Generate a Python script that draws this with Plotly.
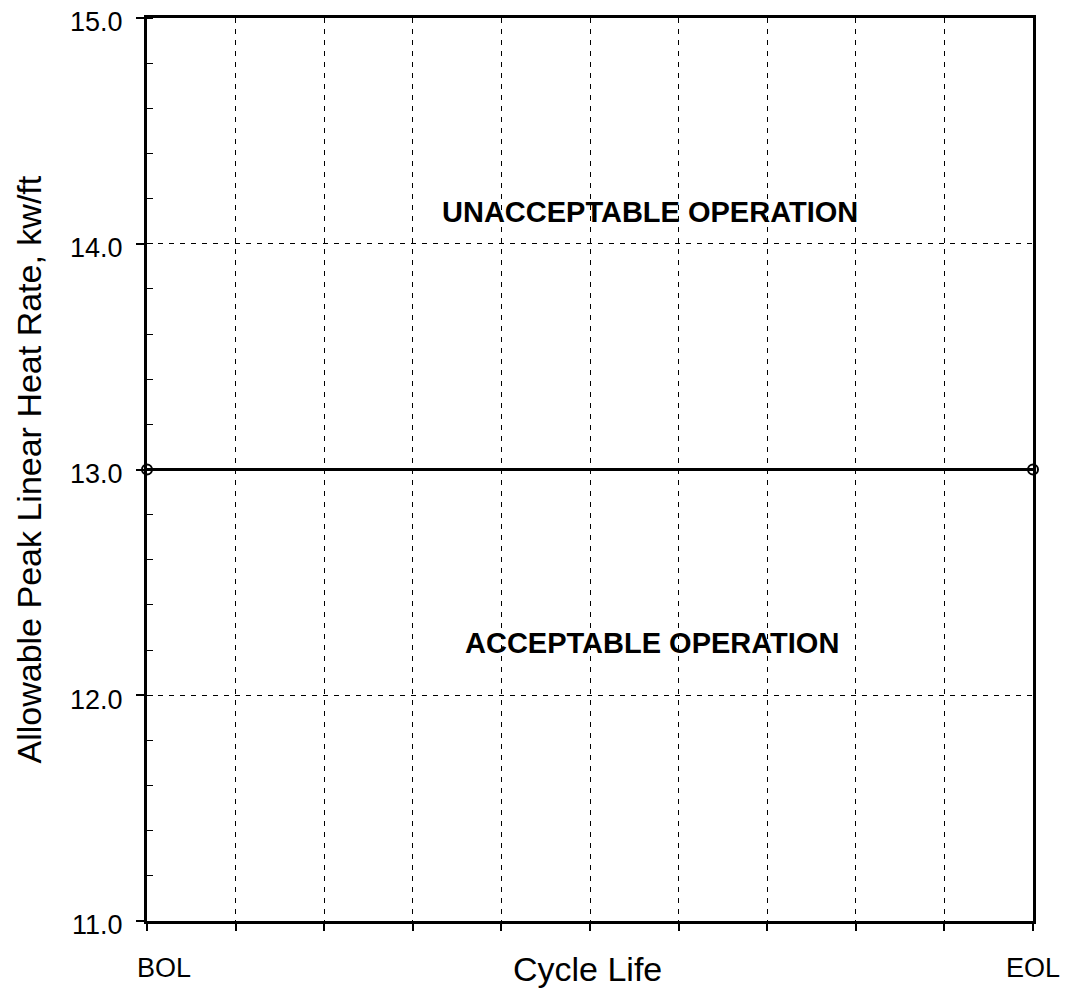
import plotly.graph_objects as go

# ---- data ----
cycle_positions = [0, 10]          # BOL .. EOL on a 0-10 cycle-life scale
peak_lhr_limit = [13.0, 13.0]      # kw/ft
x_tick_vals = [0, 10]
x_tick_labels = ["BOL", "EOL"]
y_tick_vals = [11.0, 12.0, 13.0, 14.0, 15.0]
y_tick_labels = ["11.0", "12.0", "13.0", "14.0", "15.0"]
region_labels = ["UNACCEPTABLE OPERATION", "ACCEPTABLE OPERATION"]
region_x = [5.68, 5.70]
region_y = [14.14, 12.23]

FONT = "Liberation Sans, Arial, Helvetica, sans-serif"

fig = go.Figure()
fig.add_trace(go.Scatter(
    x=cycle_positions, y=peak_lhr_limit, mode="lines+markers",
    line=dict(color="black", width=3),
    marker=dict(symbol="circle-open", size=10, color="black", line=dict(width=2)),
    cliponaxis=False, showlegend=False, hoverinfo="skip"))

annotations = []
for t, xv, yv in zip(region_labels, region_x, region_y):
    annotations.append(dict(x=xv, y=yv, xref="x", yref="y", text=f"<b>{t}</b>",
                            showarrow=False, font=dict(family=FONT, size=29, color="black"),
                            xanchor="center", yanchor="middle"))
shifts = [17, 0]
for t, xv, s in zip(x_tick_labels, x_tick_vals, shifts):
    annotations.append(dict(x=xv, y=0, xref="x", yref="paper", text=t, showarrow=False,
                            xshift=s, yshift=-47, xanchor="center", yanchor="middle",
                            font=dict(family=FONT, size=27, color="black")))
annotations.append(dict(x=0.497, y=0, xref="paper", yref="paper", text="Cycle Life",
                        showarrow=False, yshift=-48, xanchor="center", yanchor="middle",
                        font=dict(family=FONT, size=34, color="black")))
annotations.append(dict(x=0, y=0.5, xref="paper", yref="paper",
                        text="Allowable Peak Linear Heat Rate, kw/ft", textangle=-90,
                        showarrow=False, xshift=-119, xanchor="center", yanchor="middle",
                        font=dict(family=FONT, size=34, color="black")))

fig.update_layout(
    width=1063, height=984,
    margin=dict(l=139, r=38, t=10, b=71, autoexpand=False),
    paper_bgcolor="white", plot_bgcolor="white",
    font=dict(family=FONT, color="black"),
    annotations=annotations,
    xaxis=dict(range=[0, 10], dtick=1, tick0=0, showticklabels=False, automargin=False,
               ticks="outside", ticklen=7, tickwidth=1.8, tickcolor="black",
               showline=True, linecolor="black", linewidth=3, mirror=True,
               showgrid=True, gridcolor="black", gridwidth=1.4, griddash="5px,6px",
               zeroline=False, fixedrange=True),
    yaxis=dict(range=[11, 15], tickvals=y_tick_vals, ticktext=y_tick_labels, automargin=False,
               ticks="outside", ticklen=8, tickwidth=1.8, tickcolor="black",
               tickfont=dict(family=FONT, size=27, color="black"),
               ticklabelstandoff=8, ticklabelshift=4, ticklabeloverflow="allow",
               minor=dict(dtick=0.2, ticks="inside", ticklen=6, tickwidth=1.4,
                          tickcolor="black", showgrid=False),
               showline=True, linecolor="black", linewidth=3, mirror=True,
               showgrid=True, gridcolor="black", gridwidth=1.4, griddash="5px,6px",
               zeroline=False, fixedrange=True),
)

fig.write_html("out.html")
